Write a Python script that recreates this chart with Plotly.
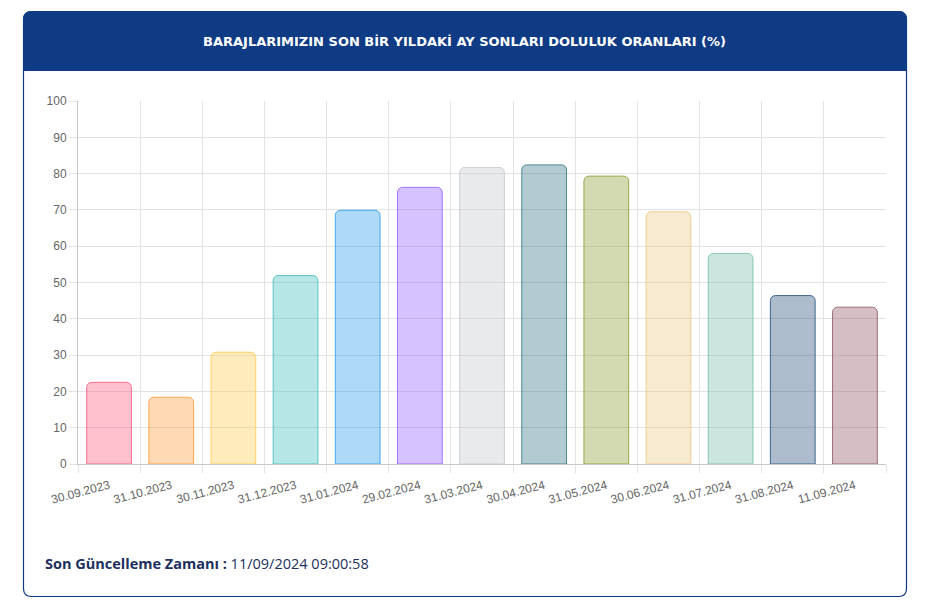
import plotly.graph_objects as go

# ---- data ----
dates = ["30.09.2023", "31.10.2023", "30.11.2023", "31.12.2023", "31.01.2024",
         "29.02.2024", "31.03.2024", "30.04.2024", "31.05.2024", "30.06.2024",
         "31.07.2024", "31.08.2024", "11.09.2024"]
fill_rates = [22.5, 18.4, 30.8, 51.9, 69.9, 76.2, 81.7, 82.4, 79.3, 69.5, 58.0, 46.4, 43.2]
base_colors = [(255, 99, 132), (255, 159, 64), (255, 205, 86), (75, 192, 192),
               (54, 162, 235), (153, 102, 255), (201, 203, 207), (62, 125, 137),
               (145, 160, 57), (235, 203, 138), (125, 192, 175), (50, 88, 130),
               (150, 95, 110)]
y_ticks = [0, 10, 20, 30, 40, 50, 60, 70, 80, 90, 100]
title_text = "BARAJLARIMIZIN SON BİR YILDAKİ AY SONLARI DOLULUK ORANLARI (%)"
footer_label = "Son Güncelleme Zamanı :"
footer_value = "11/09/2024 09:00:58"

W, H = 926, 609
PL, PR, PT, PB = 78, 886, 101, 464   # plot area in px

def px(x):
    return (x - PL) / (PR - PL)

def py(y):
    return (PB - y) / (PB - PT)

def rounded_path(x0, y0, x1, y1, r, top=True, bottom=True):
    rt = r if top else 0
    rb = r if bottom else 0
    pts = []
    pts.append(f"M{px(x0 + rt)},{py(y0)}")
    pts.append(f"L{px(x1 - rt)},{py(y0)}")
    if rt:
        pts.append(f"Q{px(x1)},{py(y0)} {px(x1)},{py(y0 + rt)}")
    pts.append(f"L{px(x1)},{py(y1 - rb)}")
    if rb:
        pts.append(f"Q{px(x1)},{py(y1)} {px(x1 - rb)},{py(y1)}")
    pts.append(f"L{px(x0 + rb)},{py(y1)}")
    if rb:
        pts.append(f"Q{px(x0)},{py(y1)} {px(x0)},{py(y1 - rb)}")
    pts.append(f"L{px(x0)},{py(y0 + rt)}")
    if rt:
        pts.append(f"Q{px(x0)},{py(y0)} {px(x0 + rt)},{py(y0)}")
    pts.append("Z")
    return " ".join(pts)

NAVY = "#0f3a84"

fig = go.Figure()
fig.add_trace(go.Bar(
    x=dates, y=fill_rates,
    marker=dict(
        color=[f"rgba({r},{g},{b},0.4)" for r, g, b in base_colors],
        line=dict(color=[f"rgba({r},{g},{b},0.9)" for r, g, b in base_colors], width=1),
    ),
    hoverinfo="x+y",
))

shapes = [
    dict(type="path", xref="paper", yref="paper",
         path=rounded_path(23.5, 11.5, 906.5, 596.5, 8),
         line=dict(color=NAVY, width=1.2), fillcolor="rgba(0,0,0,0)", layer="below"),
    dict(type="path", xref="paper", yref="paper",
         path=rounded_path(23.5, 11.5, 906.5, 70.5, 8, top=True, bottom=False),
         line=dict(color=NAVY, width=1), fillcolor=NAVY, layer="below"),
]

annotations = [
    dict(text=f"<b>{title_text}</b>", xref="paper", yref="paper",
         x=px(464), y=py(41), xanchor="center", yanchor="middle", showarrow=False,
         font=dict(family="DejaVu Sans, sans-serif", size=13, color="white")),
    dict(text=f"<b>{footer_label}</b> {footer_value}", xref="paper", yref="paper",
         x=px(43), y=py(563), xanchor="left", yanchor="middle", showarrow=False,
         font=dict(family="Open Sans, sans-serif", size=14.5, color="#1c2f5e")),
]

fig.update_layout(
    width=W, height=H, autosize=False,
    margin=dict(l=PL, r=W - PR, t=PT, b=H - PB, pad=0),
    paper_bgcolor="white", plot_bgcolor="white",
    showlegend=False,
    bargap=0.28,
    barcornerradius=5,
    shapes=shapes,
    annotations=annotations,
    xaxis=dict(
        type="category", tickson="boundaries",
        showgrid=True, gridcolor="#e3e3e3", gridwidth=1,
        ticks="outside", ticklen=8, tickcolor="#e3e3e3",
        showline=True, linecolor="#c8c8c8", linewidth=1,
        tickangle=-15, ticklabelstandoff=9,
        tickfont=dict(family="Liberation Sans, Arial, sans-serif", size=12, color="#666666"),
        fixedrange=True,
    ),
    yaxis=dict(
        range=[0, 100], tickvals=y_ticks,
        showgrid=True, gridcolor="#e3e3e3", gridwidth=1,
        ticks="outside", ticklen=8, tickcolor="#e3e3e3",
        showline=True, linecolor="#c8c8c8", linewidth=1,
        zeroline=False,
        tickfont=dict(family="Liberation Sans, Arial, sans-serif", size=12, color="#666666"),
        fixedrange=True,
    ),
)

fig.write_html("out.html", config={"displayModeBar": False})
